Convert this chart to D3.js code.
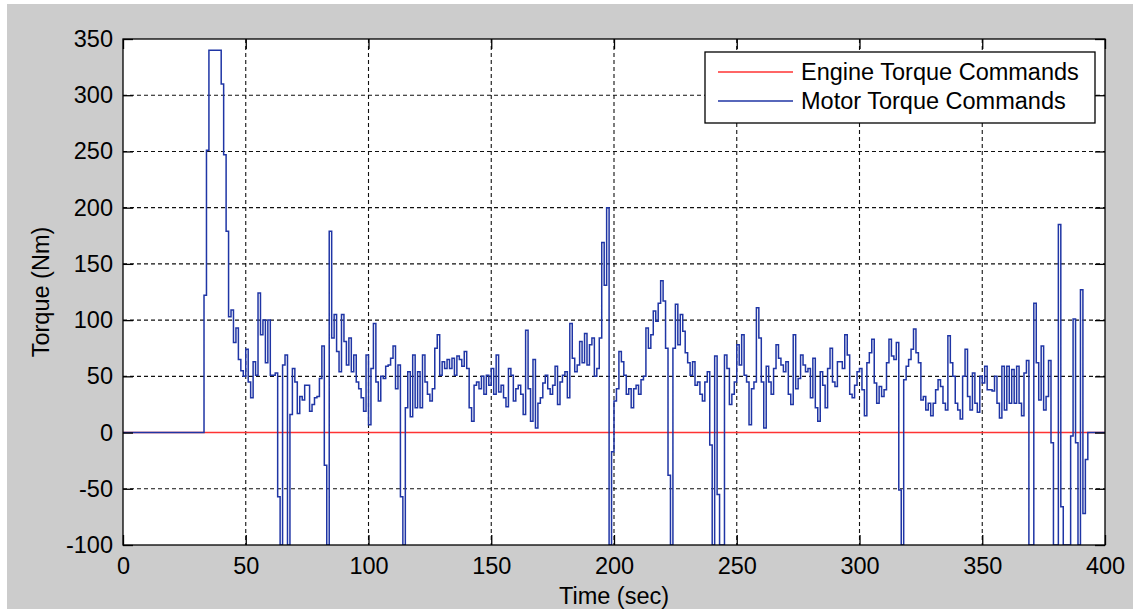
<!DOCTYPE html>
<html>
<head>
<meta charset="utf-8">
<script src="https://cdn.jsdelivr.net/npm/d3@7"></script>
<style>
body { margin: 0; background: #fff; }
text { font-family: "Liberation Sans", Arial, sans-serif; }
</style>
</head>
<body>
<svg id="graph1"></svg>
<script>
// motor torque command, one value per second from t=0 to t=400
var sampleStep = 1;
var motorTorque = [
  0,0,0,0,0,0,0,0,0,0,
  0,0,0,0,0,0,0,0,0,0,
  0,0,0,0,0,0,0,0,0,0,
  0,0,0,122,251,340,340,340,340,340,
  310,247,179,103,109,80,93,65,55,50,
  74,45,31,63,51,124,87,100,62,100,
  51,51,53,-57,-100,60,69,-100,16,57,
  45,17,32,29,42,42,19,25,31,32,
  48,77,-29,-100,179,84,105,72,54,105,
  81,60,84,54,69,45,39,31,19,69,
  7,57,97,45,28,50,48,59,60,66,
  77,39,60,-57,-100,22,54,14,69,22,
  54,22,69,45,34,28,39,75,87,51,
  63,57,65,57,66,51,68,65,59,72,
  57,22,10,42,45,39,50,34,51,42,
  57,34,69,36,42,31,23,57,51,28,
  39,42,34,16,91,39,10,65,4,26,
  31,44,51,39,34,42,59,25,45,51,
  54,31,97,66,54,60,81,62,88,60,
  78,84,50,57,84,169,131,200,-100,-17,
  28,39,72,63,51,34,39,22,39,42,
  34,47,50,93,75,87,108,99,115,135,
  117,75,-38,-100,75,114,78,105,90,71,
  62,51,63,42,45,34,28,45,54,-11,
  -100,68,-55,-100,-100,69,57,25,34,45,
  78,60,87,51,45,7,39,45,111,84,
  45,4,59,45,34,57,78,66,60,54,
  63,34,25,87,39,48,69,60,54,57,
  31,66,22,10,54,42,22,57,75,45,
  41,63,63,57,87,69,34,31,42,54,
  57,38,15,62,71,83,44,26,41,32,
  38,62,83,68,65,80,-51,-100,47,59,
  65,74,92,71,62,29,32,20,26,15,
  26,38,47,41,26,20,86,62,50,26,
  20,12,50,74,32,20,53,26,18,50,
  44,59,38,38,37,50,26,13,59,20,
  59,26,56,26,59,26,15,53,64,-100,
  -100,115,62,29,77,20,32,64,-9,-100,
  -100,185,-66,-100,-100,-100,-3,101,-9,-100,
  127,-72,-24,0,0,0,0,0,0,0,
  0
];
var engineTime = [0, 400];
var engineTorque = [0, 0];

var xTicks = [0, 50, 100, 150, 200, 250, 300, 350, 400];
var yTicks = [-100, -50, 0, 50, 100, 150, 200, 250, 300, 350];
var seriesNames = ["Engine Torque Commands", "Motor Torque Commands"];
var seriesColors = ["#ff3333", "#1f35a5"];

var fontSize = 23.5;
var screen = {width: 1133, height: 609};
var margins = {left: 123, right: 28, top: 39, bottom: 64};
var graph = {
    width: screen.width - margins.left - margins.right,
    height: screen.height - margins.top - margins.bottom
};

var svg = d3.select("#graph1")
    .attr("width", screen.width)
    .attr("height", screen.height);

// grey figure background
svg.append("rect")
    .attr("x", 7).attr("y", 4)
    .attr("width", screen.width - 7)
    .attr("height", screen.height - 4)
    .attr("fill", "#cccccc");

var xScale = d3.scaleLinear().domain([0, 400]).range([0, graph.width]);
var yScale = d3.scaleLinear().domain([-100, 350]).range([graph.height, 0]);

var target = svg.append("g")
    .attr("transform", "translate(" + margins.left + "," + margins.top + ")");

target.append("rect")
    .attr("width", graph.width)
    .attr("height", graph.height)
    .attr("fill", "#fff");

svg.append("defs").append("clipPath").attr("id", "plotclip")
    .append("rect")
    .attr("width", graph.width)
    .attr("height", graph.height);

// dashed grid
var grid = target.append("g")
    .attr("stroke", "#111")
    .attr("stroke-width", 1.1)
    .attr("stroke-dasharray", "4,3");
grid.selectAll(".gx")
    .data(xTicks.slice(1, -1))
    .enter().append("line")
    .attr("x1", function (d) { return xScale(d); })
    .attr("x2", function (d) { return xScale(d); })
    .attr("y1", 0).attr("y2", graph.height);
grid.selectAll(".gy")
    .data(yTicks.slice(1, -1))
    .enter().append("line")
    .attr("y1", function (d) { return yScale(d); })
    .attr("y2", function (d) { return yScale(d); })
    .attr("x1", 0).attr("x2", graph.width);

var line = d3.line()
    .x(function (d) { return xScale(d[0]); })
    .y(function (d) { return yScale(d[1]); })
    .curve(d3.curveStepAfter);

var lines = target.append("g").attr("clip-path", "url(#plotclip)");

var enginePts = engineTime.map(function (t, i) { return [t, engineTorque[i]]; });
var motorPts = motorTorque.map(function (v, i) { return [i * sampleStep, v]; });

lines.append("path")
    .datum(enginePts)
    .attr("d", line)
    .attr("fill", "none")
    .attr("stroke", seriesColors[0])
    .attr("stroke-width", 1.5);

lines.append("path")
    .datum(motorPts)
    .attr("d", line)
    .attr("fill", "none")
    .attr("stroke", seriesColors[1])
    .attr("stroke-width", 1.5);

// frame
target.append("rect")
    .attr("width", graph.width)
    .attr("height", graph.height)
    .attr("fill", "none")
    .attr("stroke", "#000")
    .attr("stroke-width", 1.3);

var plainNum = function (d) { return String(d); };

var styleAxis = function (g) {
    g.select(".domain").remove();
    g.attr("font-size", fontSize).attr("font-family", "'Liberation Sans', Arial, sans-serif");
    g.selectAll("line").attr("stroke", "#000").attr("stroke-width", 1.3);
    g.selectAll("text").attr("fill", "#000");
};

target.append("g")
    .attr("transform", "translate(0," + graph.height + ")")
    .call(d3.axisBottom(xScale).tickValues(xTicks).tickSize(-10).tickPadding(12).tickFormat(plainNum))
    .call(styleAxis);

target.append("g")
    .call(d3.axisTop(xScale).tickValues(xTicks).tickSize(-10).tickFormat(""))
    .call(styleAxis);

target.append("g")
    .call(d3.axisLeft(yScale).tickValues(yTicks).tickSize(-10).tickPadding(10).tickFormat(plainNum))
    .call(styleAxis);

target.append("g")
    .attr("transform", "translate(" + graph.width + ",0)")
    .call(d3.axisRight(yScale).tickValues(yTicks).tickSize(-10).tickFormat(""))
    .call(styleAxis);

// axis titles
svg.append("text")
    .text("Time (sec)")
    .attr("x", margins.left + graph.width / 2)
    .attr("y", 604)
    .attr("text-anchor", "middle")
    .attr("font-size", fontSize)
    .attr("fill", "#000");

svg.append("g")
    .attr("transform", "translate(49," + (margins.top + graph.height / 2) + ")")
    .append("text")
    .text("Torque (Nm)")
    .attr("text-anchor", "middle")
    .attr("transform", "rotate(-90)")
    .attr("font-size", fontSize)
    .attr("fill", "#000");

// legend
var legend = svg.append("g").attr("transform", "translate(705,52)");
legend.append("rect")
    .attr("width", 390).attr("height", 71)
    .attr("fill", "#fff")
    .attr("stroke", "#000")
    .attr("stroke-width", 1.3);

var entries = legend.selectAll(".entry")
    .data(seriesNames)
    .enter().append("g")
    .attr("transform", function (d, i) { return "translate(0," + (20 + i * 29) + ")"; });
entries.append("line")
    .attr("x1", 13).attr("x2", 88)
    .attr("stroke", function (d, i) { return seriesColors[i]; })
    .attr("stroke-width", 1.3);
entries.append("text")
    .text(function (d) { return d; })
    .attr("x", 96)
    .attr("dy", "0.35em")
    .attr("font-size", fontSize)
    .attr("fill", "#000");
</script>
</body>
</html>
